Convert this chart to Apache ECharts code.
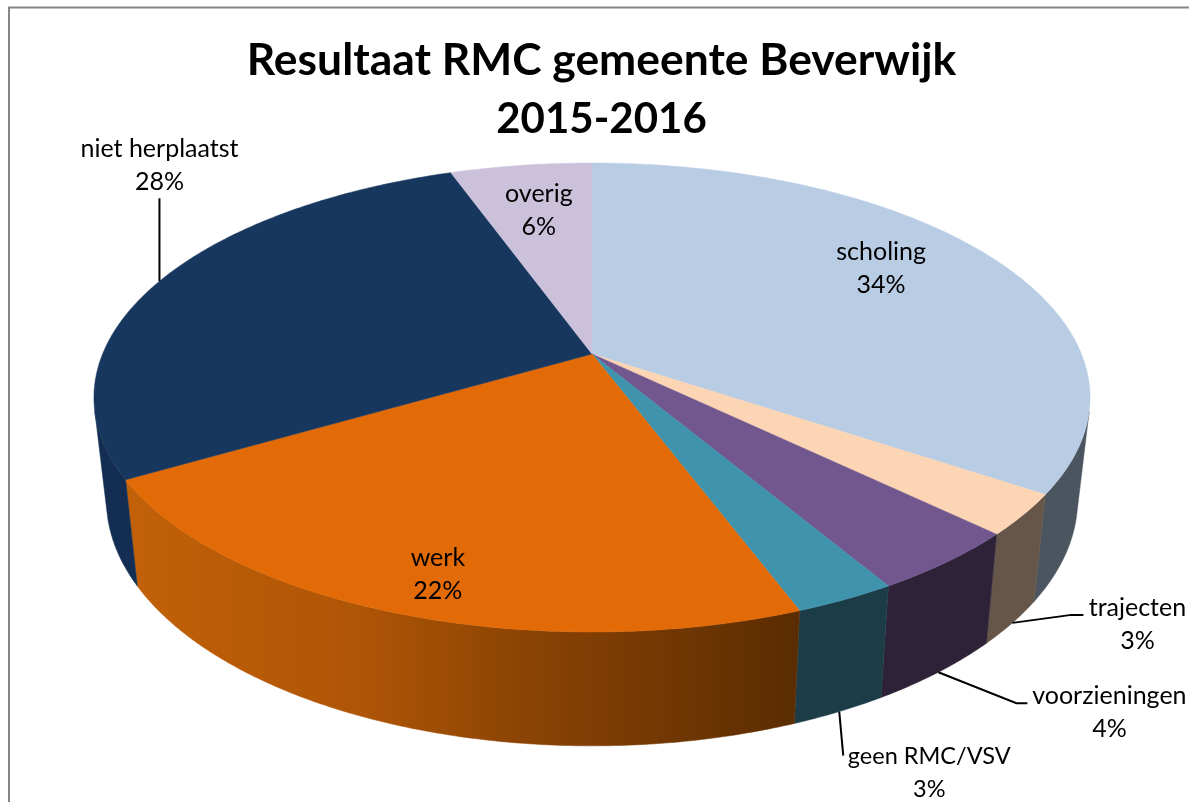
<!DOCTYPE html>
<html>
<head>
<meta charset="utf-8">
<style>html,body{margin:0;padding:0;background:#fff}#c{width:1189px;height:802px}</style>
<script src="https://cdn.jsdelivr.net/npm/echarts@6/dist/echarts.min.js"></script>
</head>
<body>
<div id="c"></div>
<script>
const categories = ['scholing','trajecten','voorzieningen','geen RMC/VSV','werk','niet herplaatst','overig'];
const values = [34.4, 2.8, 4.3, 2.8, 22.3, 27.9, 5.5];
const percentLabels = ['34%','3%','4%','3%','22%','28%','6%'];
const titleLines = ['Resultaat RMC gemeente Beverwijk','2015-2016'];

const topColors = ['#B8CCE4','#FCD5B5','#72578F','#3F93AD','#E26B07','#17375E','#CCC1DA'];
const wallColors = ['#4A555F','#66564A','#2D2238','#1C3D48',null,'#132E52','#6E6875'];
const orangeStops = [
  {offset:0,color:'#C26108'},{offset:0.35,color:'#AE5506'},
  {offset:0.6,color:'#8A4304'},{offset:1,color:'#5A2C02'}
];

const total = values.reduce((a,b)=>a+b,0);
const cum = []; values.reduce((s,v,i)=>{cum[i]=s;return s+v;},0);

// perspective disc: the pie's centre projects to the apex of the slices
const P = {cx:592, cy:354, ax:489.4, ay:226.4, k:0.1855, dropY:100, sx:0.975, sy:1.05};
// silhouette tangent points: the wall is only visible between these angles
const WALL_FROM = 104/180*Math.PI, WALL_TO = 256/180*Math.PI;
function rimTop(a){
  const w = 1 + P.k*Math.cos(a);
  return [P.cx + P.ax*Math.sin(a)/w, P.cy - P.ay*Math.cos(a)/w];
}
function rimBottom(a){
  const t = rimTop(a);
  return [P.cx + (t[0]-P.cx)*P.sx, P.cy + P.dropY + (t[1]-P.cy)*P.sy];
}
function angle(pct){ return pct/total*2*Math.PI; }
function arc(fn,a0,a1){
  const n = Math.max(2,Math.ceil((a1-a0)/0.01)), pts=[];
  for(let i=0;i<=n;i++) pts.push(fn(a0+(a1-a0)*i/n));
  return pts;
}

const chart = echarts.init(document.getElementById('c'),null,{renderer:'canvas'});

function wallItem(params,api){
  const i = api.value(0);
  const a0=Math.max(WALL_FROM,angle(cum[i])), a1=Math.min(WALL_TO,angle(cum[i]+api.value(1)));
  if(a1<=a0) return {type:'group',children:[]};
  const fill = wallColors[i] || {type:'linear',x:125,y:0,x2:800,y2:0,global:true,colorStops:orangeStops};
  const pts = arc(rimTop,a0,a1).concat(arc(rimBottom,a0,a1).reverse());
  return {type:'polygon',shape:{points:pts},style:{fill:fill,stroke:fill,lineWidth:0.5}};
}
function topItem(params,api){
  const i = api.value(0), a0=angle(cum[i]), a1=angle(cum[i]+api.value(1));
  const pts = [[P.cx,P.cy]].concat(arc(rimTop,a0,a1));
  return {type:'polygon',shape:{points:pts},style:{fill:topColors[i],stroke:topColors[i],lineWidth:0.5}};
}

// label offsets from the slice's rim mid-point; leader bend points, same frame
const labelLayout = [
  {rim:'top',dx:-108,dy:12},
  {rim:'bottom',dx:125,dy:2,line:[[59,-8],[71,-8]]},
  {rim:'bottom',dx:171,dy:40,line:[[78,31],[89,31]]},
  {rim:'bottom',dx:90,dy:61,size:23.5,line:[[4,44]]},
  {rim:'top',dx:45,dy:-38},
  {rim:'top',dx:0,dy:-116,line:[[0,-83]]},
  {rim:'top',dx:18,dy:45}
];
const LABEL_FONT = 'Lato';
const LABEL_SIZE = 25;
function labelItem(params,api){
  const i = api.value(0), mid=angle(cum[i]+api.value(1)/2), L=labelLayout[i];
  const o = L.rim==='top'?rimTop(mid):rimBottom(mid);
  const kids=[];
  if(L.line){
    const pts=[o].concat(L.line.map(p=>[o[0]+p[0],o[1]+p[1]]));
    kids.push({type:'polyline',shape:{points:pts},style:{stroke:'#000',lineWidth:2,fill:null}});
  }
  kids.push({type:'text',style:{x:o[0]+L.dx,y:o[1]+L.dy,text:categories[i]+'\n'+percentLabels[i],
    align:'center',verticalAlign:'middle',fill:'#000',font:(L.size||LABEL_SIZE)+'px '+LABEL_FONT,lineHeight:33}});
  return {type:'group',children:kids};
}

const seriesData = values.map((v,i)=>({name:categories[i],value:[i,v]}));
chart.setOption({
  animation:false,
  backgroundColor:'#fff',
  title:[
    {text:titleLines[0],left:596.5,top:34,textAlign:'center',
     textStyle:{fontFamily:'Lato',fontWeight:'bold',fontSize:44.4,color:'#000'}},
    {text:titleLines[1],left:596.5,top:93,textAlign:'center',
     textStyle:{fontFamily:'Lato',fontWeight:'bold',fontSize:42,color:'#000'}}
  ],
  graphic:[
    {type:'line',silent:true,shape:{x1:8,y1:7.5,x2:1189,y2:7.5},style:{stroke:'#868686',lineWidth:2}},
    {type:'line',silent:true,shape:{x1:9,y1:7,x2:9,y2:802},style:{stroke:'#868686',lineWidth:2}}
  ],
  series:[
    {type:'custom',coordinateSystem:'none',z:1,renderItem:wallItem,data:seriesData,clip:false},
    {type:'custom',coordinateSystem:'none',z:2,renderItem:topItem,data:seriesData,clip:false},
    {type:'custom',coordinateSystem:'none',z:3,renderItem:labelItem,data:seriesData,clip:false}
  ]
});
</script>
</body>
</html>
